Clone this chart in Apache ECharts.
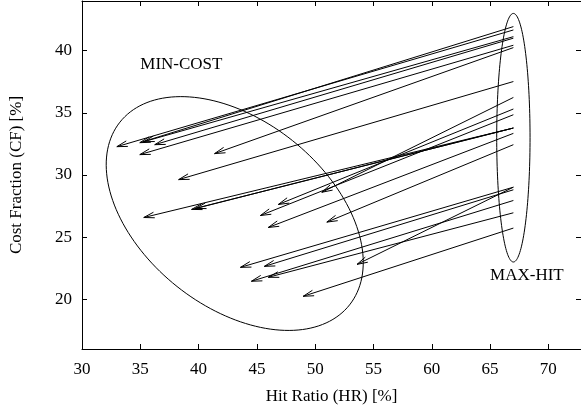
<!DOCTYPE html>
<html>
<head>
<meta charset="utf-8">
<script src="https://cdn.jsdelivr.net/npm/echarts@6/dist/echarts.min.js"></script>
<style>
    html, body { margin: 0; padding: 0; background: #fff; }
    #main { width: 581px; height: 411px; }
</style>
</head>
<body>
<div id="main"></div>
<script>
    // arrows: from the MAX-HIT point (HR, CF) to the MIN-COST point
    var maxHitHR = [67, 67, 67, 67, 67, 67, 67, 67, 67, 67, 67, 67, 67, 67, 67, 67, 67, 67, 67, 67, 67];
    var maxHitCF = [41.94, 41.67, 41.13, 41.01, 40.44, 40.25, 37.52, 36.24, 35.31, 34.85, 33.78,
                    33.78, 33.78, 33.35, 32.44, 29.02, 29.02, 28.81, 27.95, 26.96, 25.73];
    var minCostHR = [34.96, 32.99, 35.30, 36.24, 34.96, 41.37, 38.29, 50.57, 46.84, 45.30, 35.30,
                     39.40, 39.74, 45.98, 51.00, 53.59, 43.59, 45.64, 44.53, 45.98, 48.97];
    var minCostCF = [32.60, 32.28, 32.68, 32.44, 31.64, 31.72, 29.63, 28.61, 27.63, 26.74, 26.58,
                     27.23, 27.31, 25.78, 26.21, 22.81, 22.57, 22.65, 21.45, 21.77, 20.24];

    var xTicks = [30, 35, 40, 45, 50, 55, 60, 65, 70];
    var yTicks = [20, 25, 30, 35, 40];

    // ellipses (data units): centre + two conjugate semi-axes
    var minCostCenter = [43.1, 26.9];
    var minCostAxisA = [9.85, -7.35];
    var minCostAxisB = [-4.95, -5.87];
    var maxHitCenter = [67, 33];
    var maxHitAxisA = [1.43, 0];
    var maxHitAxisB = [0, 10];

    var labelText = ['MIN-COST', 'MAX-HIT'];
    var labelHR = [35, 65];
    var labelCF = [38.9, 21.9];

    var font = 'Liberation Serif';

    var arrowData = [];
    for (var i = 0; i < maxHitHR.length; i++) {
        arrowData.push([maxHitHR[i], maxHitCF[i], minCostHR[i], minCostCF[i]]);
    }
    var labelData = [];
    for (var j = 0; j < labelText.length; j++) {
        labelData.push([labelHR[j], labelCF[j]]);
    }

    function renderArrow(params, api) {
        var p0 = api.coord([api.value(0), api.value(1)]);
        var p1 = api.coord([api.value(2), api.value(3)]);
        var dx = p0[0] - p1[0], dy = p0[1] - p1[1];
        var len = Math.sqrt(dx * dx + dy * dy);
        dx /= len; dy /= len;
        var L = 11, a = 15 * Math.PI / 180;
        var c = Math.cos(a), s = Math.sin(a);
        var h1 = [p1[0] + L * (dx * c - dy * s), p1[1] + L * (dx * s + dy * c)];
        var h2 = [p1[0] + L * (dx * c + dy * s), p1[1] + L * (-dx * s + dy * c)];
        var st = { stroke: '#000', lineWidth: 1, fill: null };
        return {
            type: 'group',
            children: [
                { type: 'line', shape: { x1: p0[0], y1: p0[1], x2: p1[0], y2: p1[1] }, style: st },
                { type: 'polyline', shape: { points: [h1, p1, h2] }, style: st }
            ]
        };
    }

    function ellipseRenderer(c, A, B) {
        return function (params, api) {
            var pts = [];
            for (var k = 0; k <= 160; k++) {
                var t = k / 160 * Math.PI * 2;
                pts.push(api.coord([
                    c[0] + A[0] * Math.cos(t) + B[0] * Math.sin(t),
                    c[1] + A[1] * Math.cos(t) + B[1] * Math.sin(t)
                ]));
            }
            return { type: 'polyline', shape: { points: pts }, style: { stroke: '#000', lineWidth: 1, fill: null } };
        };
    }

    function renderLabel(params, api) {
        var p = api.coord([api.value(0), api.value(1)]);
        return {
            type: 'text',
            x: p[0], y: p[1],
            style: {
                text: labelText[params.dataIndex],
                fill: '#000',
                font: '17px "' + font + '"',
                align: 'left',
                verticalAlign: 'middle'
            }
        };
    }

    var axisLineStyle = { lineStyle: { color: '#000', width: 1 } };
    var tickStyle = { inside: true, length: 5, lineStyle: { color: '#000' } };
    var labelStyle = { color: '#000', fontFamily: font, fontSize: 17 };

    var myChart = echarts.init(document.getElementById('main'));
    var option = {
        animation: false,
        backgroundColor: '#fff',
        grid: { left: 81, right: -1, top: 1, bottom: 62 },
        xAxis: [{
            type: 'value', min: 30, max: 72.8, position: 'bottom',
            name: 'Hit Ratio (HR) [%]', nameLocation: 'middle', nameGap: 39,
            nameTextStyle: labelStyle,
            axisLine: axisLineStyle,
            axisTick: Object.assign({ customValues: xTicks }, tickStyle),
            axisLabel: Object.assign({ customValues: xTicks, margin: 12 }, labelStyle),
            splitLine: { show: false }
        }, {
            type: 'value', min: 30, max: 72.8, position: 'top',
            axisLine: axisLineStyle,
            axisTick: Object.assign({ customValues: xTicks }, tickStyle),
            axisLabel: { show: false },
            splitLine: { show: false }
        }],
        yAxis: [{
            type: 'value', min: 16, max: 44, position: 'left',
            name: 'Cost Fraction (CF) [%]', nameLocation: 'middle', nameGap: 57,
            nameTextStyle: labelStyle,
            axisLine: axisLineStyle,
            axisTick: Object.assign({ customValues: yTicks }, tickStyle),
            axisLabel: Object.assign({ customValues: yTicks, margin: 10 }, labelStyle),
            splitLine: { show: false }
        }, {
            type: 'value', min: 16, max: 44, position: 'right',
            axisLine: axisLineStyle,
            axisTick: Object.assign({ customValues: yTicks }, tickStyle),
            axisLabel: { show: false },
            splitLine: { show: false }
        }],
        series: [{
            type: 'custom',
            xAxisIndex: 0, yAxisIndex: 0,
            renderItem: ellipseRenderer(minCostCenter, minCostAxisA, minCostAxisB),
            data: [minCostCenter],
            silent: true
        }, {
            type: 'custom',
            xAxisIndex: 0, yAxisIndex: 0,
            renderItem: ellipseRenderer(maxHitCenter, maxHitAxisA, maxHitAxisB),
            data: [maxHitCenter],
            silent: true
        }, {
            type: 'custom',
            xAxisIndex: 0, yAxisIndex: 0,
            renderItem: renderArrow,
            encode: { x: [0, 2], y: [1, 3] },
            data: arrowData,
            silent: true
        }, {
            type: 'custom',
            xAxisIndex: 0, yAxisIndex: 0,
            renderItem: renderLabel,
            data: labelData,
            silent: true
        }]
    };
    myChart.setOption(option);
</script>
</body>
</html>
